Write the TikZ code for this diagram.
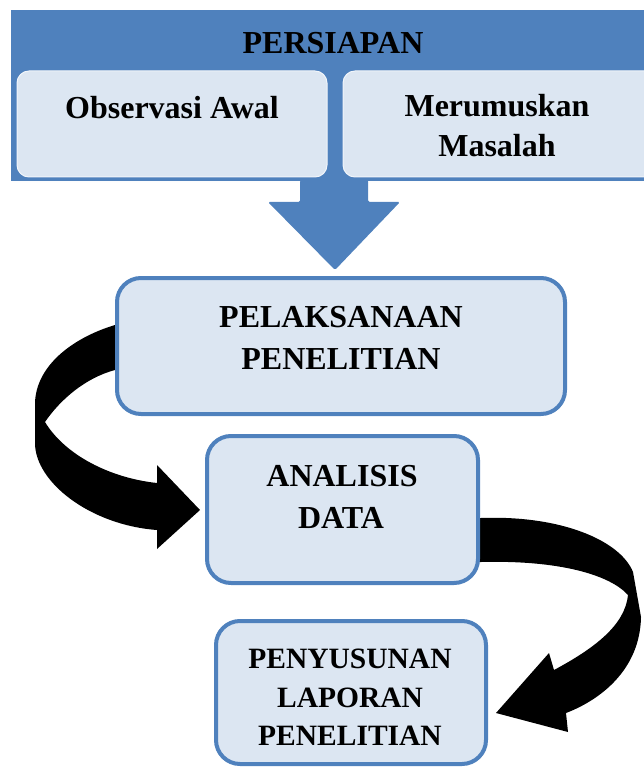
\documentclass[tikz,border=0pt]{standalone}
\usepackage{fontspec}
\setmainfont{Liberation Serif}
\definecolor{accent}{HTML}{4F81BD}
\definecolor{pale}{HTML}{DCE6F2}
\definecolor{shade}{HTML}{3F6EA8}
\tikzset{
  panel/.style={fill=accent, inner sep=0pt, outer sep=0pt, anchor=north west},
  subbox/.style={fill=pale, draw=white!60!pale, line width=1pt, rounded corners=12pt,
    inner sep=0pt, outer sep=0pt, anchor=north west},
  stagebox/.style={fill=pale, draw=accent, line width=4pt, rounded corners=24pt,
    inner sep=0pt, outer sep=0pt},
  lbl/.style={font=\bfseries\fontsize{32}{38}\selectfont, anchor=base, inner sep=0pt},
  lblsmall/.style={font=\bfseries\fontsize{29.5}{36}\selectfont, anchor=base, inner sep=0pt},
  curvearrow/.style={fill=black}
}
\begin{document}
\begin{tikzpicture}[x=1pt,y=-1pt]
\useasboundingbox (0,0) rectangle (644,767);
\clip (0,0) rectangle (644,767);

% preparation panel
\fill[shade] (12,14) rectangle (660,183);
\node[panel, minimum width=650pt, minimum height=171pt] (prep) at (11,10) {};
\node[subbox, minimum width=310pt, minimum height=106pt] (obs) at (17,71) {};
\node[subbox, minimum width=320pt, minimum height=106pt] (rum) at (343,71) {};
\node[lbl] (tprep) at (333,54) {PERSIAPAN};
\node[lbl] (tobs) at (172,119) {Observasi Awal};
\node[lbl] (trum1) at (497,117) {Merumuskan};
\node[lbl] (trum2) at (497,157) {Masalah};

% blue down arrow
\fill[accent, rounded corners=1.5pt] (300,180) -- (368,180) -- (368,202) -- (400,202)
  -- (335,270) -- (268,202) -- (300,202) -- cycle;

% black curved arrows (drawn under the boxes)
\fill[curvearrow] (125,325) -- (115,325)
  .. controls (72,338) and (36,366) .. (35,403)
  -- (35,443)
  .. controls (35,482) and (90,525) .. (157,530)
  -- (157,549) -- (200,510) -- (157,465) -- (157,483)
  .. controls (110,478) and (65,455) .. (45,422)
  .. controls (60,400) and (85,378) .. (115,370)
  -- (125,370) -- cycle;

\fill[curvearrow] (470,518) -- (481,518)
  .. controls (560,515) and (620,540) .. (633,572)
  -- (641,617)
  .. controls (640,670) and (600,700) .. (566,713)
  -- (568,732) -- (496,713) -- (549,653) -- (554,670)
  .. controls (595,648) and (625,625) .. (628,595)
  .. controls (610,575) and (560,560) .. (481,562)
  -- (470,562) -- cycle;

% stage boxes
\node[stagebox, minimum width=448pt, minimum height=136pt] (pel) at (341,346) {};
\node[stagebox, minimum width=271pt, minimum height=147pt] (ana) at (342.5,509.5) {};
\node[stagebox, minimum width=270pt, minimum height=143pt] (pen) at (351,692.5) {};

\node[lbl] (tpel1) at (341,327) {PELAKSANAAN};
\node[lbl] (tpel2) at (341,369) {PENELITIAN};
\node[lbl] (tana1) at (342,486) {ANALISIS};
\node[lbl] (tana2) at (341,528) {DATA};
\node[lblsmall] (tpen1) at (350,668) {PENYUSUNAN};
\node[lblsmall] (tpen2) at (350,707) {LAPORAN};
\node[lblsmall] (tpen3) at (350,745) {PENELITIAN};
\end{tikzpicture}
\end{document}
